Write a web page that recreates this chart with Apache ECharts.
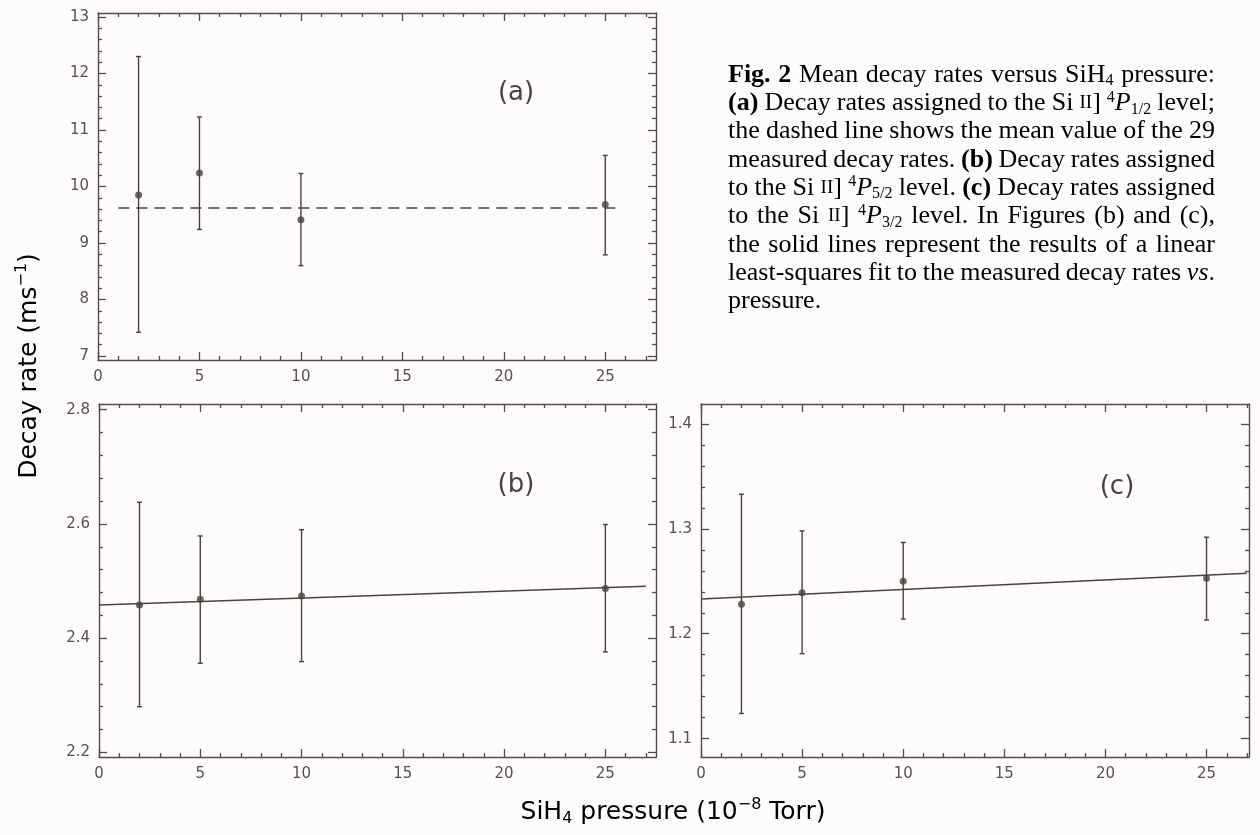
<!DOCTYPE html>
<html>
<head>
<meta charset="utf-8">
<script src="https://cdn.jsdelivr.net/npm/echarts@6/dist/echarts.min.js"></script>
<style>
html,body{margin:0;padding:0;background:#fdfcfa;}
#chart{width:1260px;height:835px;}
</style>
</head>
<body>
<div id="chart"></div>
<script>
// ---------------- data ----------------
const pressure = [2, 5, 10, 25];

const rateA = [9.85, 10.24, 9.41, 9.68];
const lowA  = [7.42, 9.24, 8.60, 8.79];
const highA = [12.30, 11.23, 10.23, 10.55];
const meanA = 9.62;
const meanSpanX = [1.0, 25.7];

const rateB = [2.458, 2.468, 2.474, 2.487];
const lowB  = [2.280, 2.356, 2.359, 2.376];
const highB = [2.638, 2.579, 2.590, 2.599];

const rateC = [1.228, 1.239, 1.250, 1.253];
const lowC  = [1.124, 1.181, 1.214, 1.213];
const highC = [1.333, 1.298, 1.287, 1.292];

const fitX = [0, 27];
const fitB = [2.458, 2.491];
const fitC = [1.233, 1.2576];

const xTicks  = [0, 5, 10, 15, 20, 25];
const yTicksA = [7, 8, 9, 10, 11, 12, 13];
const yTicksB = [2.2, 2.4, 2.6, 2.8];
const yTicksC = [1.1, 1.2, 1.3, 1.4];

// ---------------- styling ----------------
const INK = '#4a4040';
const AXIS = '#554a4a';
const LABEL = '#575050';
const SANS = "'DejaVu Sans', sans-serif";
const SERIF_FAMILY = "'Liberation Serif', serif";
const CAP_COLOR = '#3a3434';

function minorTicks(lo, hi, step, majors) {
  const out = [];
  const k0 = Math.ceil(lo / step - 1e-9), k1 = Math.floor(hi / step + 1e-9);
  for (let k = k0; k <= k1; k++) {
    const v = +(k * step).toFixed(5);
    if (!majors.some(m => Math.abs(m - v) < step / 10)) out.push(v);
  }
  return out;
}

function makeX(g, max) {
  const minor = minorTicks(0, max, 1, xTicks);
  const base = {type: 'value', gridIndex: g, min: 0, max: max, splitLine: {show: false}};
  const line = {onZero: false, lineStyle: {color: AXIS, width: 1.4}};
  const tk = (len, vals) => ({inside: true, length: len, customValues: vals, lineStyle: {color: AXIS, width: 1.3}});
  return [
    Object.assign({}, base, {position: 'bottom', axisLine: line, axisTick: tk(8, xTicks),
      axisLabel: {customValues: xTicks, margin: 10, fontSize: 15, color: LABEL, fontFamily: SANS}}),
    Object.assign({}, base, {position: 'bottom', axisLine: {show: false, onZero: false}, axisTick: tk(4, minor), axisLabel: {show: false}}),
    Object.assign({}, base, {position: 'top', axisLine: line, axisTick: tk(8, xTicks), axisLabel: {show: false}}),
    Object.assign({}, base, {position: 'top', axisLine: {show: false, onZero: false}, axisTick: tk(4, minor), axisLabel: {show: false}})
  ];
}

function makeY(g, min, max, majors, step, digits) {
  const minor = minorTicks(min, max, step, majors);
  const base = {type: 'value', gridIndex: g, min: min, max: max, splitLine: {show: false}};
  const line = {onZero: false, lineStyle: {color: AXIS, width: 1.4}};
  const tk = (len, vals) => ({inside: true, length: len, customValues: vals, lineStyle: {color: AXIS, width: 1.3}});
  return [
    Object.assign({}, base, {position: 'left', axisLine: line, axisTick: tk(8, majors),
      axisLabel: {customValues: majors, margin: 9, fontSize: 15, color: LABEL, fontFamily: SANS,
        formatter: v => (+v).toFixed(digits)}}),
    Object.assign({}, base, {position: 'left', axisLine: {show: false, onZero: false}, axisTick: tk(4, minor), axisLabel: {show: false}}),
    Object.assign({}, base, {position: 'right', axisLine: line, axisTick: tk(8, majors), axisLabel: {show: false}}),
    Object.assign({}, base, {position: 'right', axisLine: {show: false, onZero: false}, axisTick: tk(4, minor), axisLabel: {show: false}})
  ];
}

function errorBars(g, xs, lows, highs) {
  return {
    type: 'custom', xAxisIndex: 4 * g, yAxisIndex: 4 * g, z: 3, clip: false,
    data: xs.map((x, i) => [x, lows[i], highs[i]]),
    encode: {x: 0, y: [1, 2]},
    renderItem: function (params, api) {
      const lo = api.coord([api.value(0), api.value(1)]);
      const hi = api.coord([api.value(0), api.value(2)]);
      const c = 2.5;
      const st = {stroke: INK, lineWidth: 1.4};
      return {type: 'group', children: [
        {type: 'line', shape: {x1: lo[0], y1: lo[1], x2: hi[0], y2: hi[1]}, style: st},
        {type: 'line', shape: {x1: lo[0] - c, y1: lo[1], x2: lo[0] + c, y2: lo[1]}, style: st},
        {type: 'line', shape: {x1: hi[0] - c, y1: hi[1], x2: hi[0] + c, y2: hi[1]}, style: st}
      ]};
    }
  };
}

function points(g, xs, ys) {
  return {type: 'scatter', xAxisIndex: 4 * g, yAxisIndex: 4 * g, z: 4,
    symbol: 'circle', symbolSize: 7, itemStyle: {color: INK},
    data: xs.map((x, i) => [x, ys[i]])};
}

function lineSeries(g, xs, ys, dashed) {
  return {type: 'line', xAxisIndex: 4 * g, yAxisIndex: 4 * g, z: 2, symbol: 'none',
    lineStyle: {color: INK, width: 1.5, type: dashed ? [11, 7] : 'solid'},
    data: xs.map((x, i) => [x, ys[i]])};
}

const xMaxAB = 27.5, xMaxC = 27.1;

const xAxis = [].concat(makeX(0, xMaxAB), makeX(1, xMaxAB), makeX(2, xMaxC));
const yAxis = [].concat(
  makeY(0, 6.93, 13.07, yTicksA, 0.2, 0),
  makeY(1, 2.192, 2.81, yTicksB, 0.04, 1),
  makeY(2, 1.0825, 1.419, yTicksC, 0.02, 1)
);

const series = [
  errorBars(0, pressure, lowA, highA), points(0, pressure, rateA),
  lineSeries(0, meanSpanX, [meanA, meanA], true),
  errorBars(1, pressure, lowB, highB), points(1, pressure, rateB),
  lineSeries(1, fitX, fitB, false),
  errorBars(2, pressure, lowC, highC), points(2, pressure, rateC),
  lineSeries(2, fitX, fitC, false)
];

// ---------------- caption (justified, word by word) ----------------
const CAP_SIZE = 26;
const capRich = {
  n:  {fontFamily: SERIF_FAMILY, fontSize: CAP_SIZE, lineHeight: 28, color: CAP_COLOR},
  b:  {fontFamily: SERIF_FAMILY, fontSize: CAP_SIZE, lineHeight: 28, color: CAP_COLOR, fontWeight: 'bold'},
  i:  {fontFamily: SERIF_FAMILY, fontSize: CAP_SIZE, lineHeight: 28, color: CAP_COLOR, fontStyle: 'italic'},
  sm: {fontFamily: SERIF_FAMILY, fontSize: 19, lineHeight: 28, color: CAP_COLOR},
  sup: {fontFamily: SERIF_FAMILY, fontSize: 16, lineHeight: 16, verticalAlign: 'top', color: CAP_COLOR},
  sub: {fontFamily: SERIF_FAMILY, fontSize: 16, lineHeight: 18, verticalAlign: 'bottom', color: CAP_COLOR}
};
const captionLines = [
  ['{b|Fig.}', '{b|2}', '{n|Mean}', '{n|decay}', '{n|rates}', '{n|versus}', '{n|SiH}{sub|4}', '{n|pressure:}'],
  ['{b|(a)}', '{n|Decay}', '{n|rates}', '{n|assigned}', '{n|to}', '{n|the}', '{n|Si}', '{sm|II}{n|]}', '{sup|4}{i|P}{sub|1/2}', '{n|level;}'],
  ['{n|the}', '{n|dashed}', '{n|line}', '{n|shows}', '{n|the}', '{n|mean}', '{n|value}', '{n|of}', '{n|the}', '{n|29}'],
  ['{n|measured}', '{n|decay}', '{n|rates.}', '{b|(b)}', '{n|Decay}', '{n|rates}', '{n|assigned}'],
  ['{n|to}', '{n|the}', '{n|Si}', '{sm|II}{n|]}', '{sup|4}{i|P}{sub|5/2}', '{n|level.}', '{b|(c)}', '{n|Decay}', '{n|rates}', '{n|assigned}'],
  ['{n|to}', '{n|the}', '{n|Si}', '{sm|II}{n|]}', '{sup|4}{i|P}{sub|3/2}', '{n|level.}', '{n|In}', '{n|Figures}', '{n|(b)}', '{n|and}', '{n|(c),}'],
  ['{n|the}', '{n|solid}', '{n|lines}', '{n|represent}', '{n|the}', '{n|results}', '{n|of}', '{n|a}', '{n|linear}'],
  ['{n|least-squares}', '{n|fit}', '{n|to}', '{n|the}', '{n|measured}', '{n|decay}', '{n|rates}', '{i|vs}{n|.}'],
  ['{n|pressure.}']
];
const CAP_LEFT = 728, CAP_RIGHT = 1215, CAP_TOP = 75, CAP_STEP = 28.3;

const measureCtx = document.createElement('canvas').getContext('2d');
function wordWidth(w) {
  let total = 0;
  const re = /\{(\w+)\|([^}]*)\}/g;
  let m;
  while ((m = re.exec(w)) !== null) {
    const s = capRich[m[1]];
    measureCtx.font = (s.fontStyle || 'normal') + ' ' + (s.fontWeight || 'normal') + ' ' + s.fontSize + 'px ' + s.fontFamily;
    total += measureCtx.measureText(m[2]).width;
  }
  return total;
}

const graphic = [];
captionLines.forEach((words, li) => {
  const widths = words.map(wordWidth);
  const sum = widths.reduce((a, b) => a + b, 0);
  const last = li === captionLines.length - 1;
  const spaceW = CAP_SIZE * 0.25;
  let gap = (last || words.length < 2) ? spaceW : (CAP_RIGHT - CAP_LEFT - sum) / (words.length - 1);
  gap = Math.max(gap, spaceW * 0.7);
  let x = CAP_LEFT;
  words.forEach((w, wi) => {
    graphic.push({type: 'text', x: x, y: CAP_TOP + li * CAP_STEP, z: 10,
      style: {text: w, rich: capRich, textAlign: 'left', textVerticalAlign: 'middle'}});
    x += widths[wi] + gap;
  });
});

const panelFont = {fontFamily: SANS, fontSize: 26, fill: '#4a4242'};
[['(a)', 516, 93], ['(b)', 516, 485], ['(c)', 1117, 487]].forEach(p => {
  graphic.push({type: 'text', x: p[1], y: p[2], z: 10,
    style: Object.assign({text: p[0], textAlign: 'center', textVerticalAlign: 'middle'}, panelFont)});
});

const titleRich = {
  n: {fontFamily: SANS, fontSize: 25, lineHeight: 30, color: '#575050'},
  sup: {fontFamily: SANS, fontSize: 16, lineHeight: 18, verticalAlign: 'top', color: '#575050'},
  sub: {fontFamily: SANS, fontSize: 16, lineHeight: 18, verticalAlign: 'bottom', color: '#575050'}
};
graphic.push({type: 'text', x: 29, y: 366, rotation: Math.PI / 2, z: 10,
  style: {text: '{n|Decay rate (ms}{sup|−1}{n|)}', rich: titleRich, textAlign: 'center', textVerticalAlign: 'middle'}});
graphic.push({type: 'text', x: 673, y: 812, z: 10,
  style: {text: '{n|SiH}{sub|4}{n| pressure (10}{sup|−8}{n| Torr)}', rich: titleRich, textAlign: 'center', textVerticalAlign: 'middle'}});

const chart = echarts.init(document.getElementById('chart'), null, {renderer: 'canvas'});
chart.setOption({
  backgroundColor: '#fdfcfa',
  animation: false,
  grid: [
    {left: 98, top: 13, width: 558, height: 347},
    {left: 99, top: 404, width: 557, height: 353},
    {left: 701, top: 404, width: 548, height: 353}
  ],
  xAxis: xAxis,
  yAxis: yAxis,
  series: series,
  graphic: graphic
});
</script>
</body>
</html>
